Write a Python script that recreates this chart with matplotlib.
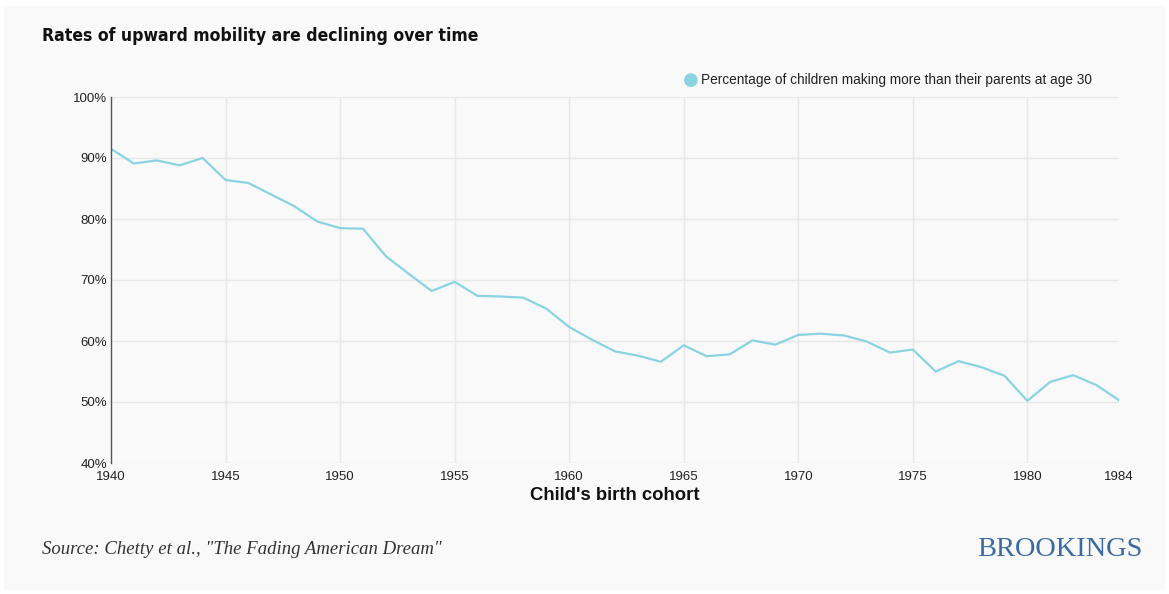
import matplotlib.pyplot as plt
from matplotlib.patches import Rectangle
from matplotlib.ticker import FuncFormatter

# Share of children earning more than their parents at age 30, by birth year
years = list(range(1940, 1985))
pct_higher = [
    91.5, 89.1, 89.6, 88.8, 90.0, 86.4, 85.9, 84.0, 82.1, 79.6,
    78.5, 78.4, 73.9, 71.0, 68.2, 69.7, 67.4, 67.3, 67.1, 65.3,
    62.3, 60.2, 58.3, 57.6, 56.6, 59.3, 57.5, 57.8, 60.1, 59.4,
    61.0, 61.2, 60.9, 59.9, 58.1, 58.6, 55.0, 56.7, 55.7, 54.3,
    50.2, 53.3, 54.4, 52.8, 50.3,
]
x_ticks = [1940, 1945, 1950, 1955, 1960, 1965, 1970, 1975, 1980, 1984]
y_ticks = [40, 50, 60, 70, 80, 90, 100]

line_color = '#8ad3e3'
grid_color = '#e8e8e8'
bg = '#f9f9f9'

fig = plt.figure(figsize=(11.69, 5.94), dpi=100)
fig.patch.set_facecolor('white')
fig.patches.append(Rectangle((4 / 1169, 4 / 594), 1161 / 1169, 584 / 594,
                             transform=fig.transFigure, facecolor=bg,
                             edgecolor='none', zorder=-10))

ax = fig.add_axes([111 / 1169, 1 - 463 / 594, 1008 / 1169, 366 / 594])
ax.set_facecolor(bg)
ax.patch.set_alpha(0)

ax.plot(years, pct_higher, color=line_color, lw=1.6, zorder=3)

ax.set_xlim(1940, 1984)
ax.set_ylim(40, 100)
ax.set_xticks(x_ticks)
ax.set_yticks(y_ticks)
ax.yaxis.set_major_formatter(FuncFormatter(lambda v, p: f'{v:.0f}%'))

# grid: horizontal lines at every tick, vertical only every 5 years
for y in y_ticks:
    ax.axhline(y, color=grid_color, lw=1, zorder=1)
for x in x_ticks[1:-1]:
    ax.axvline(x, color=grid_color, lw=1, zorder=1)

for side in ['top', 'right', 'bottom']:
    ax.spines[side].set_visible(False)
ax.spines['left'].set_color('#555555')
ax.spines['left'].set_linewidth(1)
ax.spines['left'].set_zorder(4)
ax.tick_params(axis='both', length=0, labelsize=9.5, colors='#222222',
               labelfontfamily='Liberation Sans')
ax.tick_params(axis='x', pad=6)
ax.tick_params(axis='y', pad=3)

ax.set_xlabel("Child's birth cohort", fontsize=13.3, fontweight='bold',
              family='Liberation Sans', color='#111111', labelpad=3)

# legend entry above the plot
fig.text(691 / 1169, 1 - 80 / 594, '\u25CF', color=line_color, fontsize=13,
         ha='center', va='center', family='DejaVu Sans')
fig.text(701 / 1169, 1 - 80 / 594,
         'Percentage of children making more than their parents at age 30',
         fontsize=9.85, family='Liberation Sans', color='#222222',
         ha='left', va='center')

fig.text(42 / 1169, 1 - 36 / 594, 'Rates of upward mobility are declining over time',
         fontsize=12.6, fontweight='bold', fontstretch='condensed',
         family='DejaVu Sans', color='#111111', ha='left', va='center')

fig.text(42 / 1169, 1 - 550 / 594,
         'Source: Chetty et al., "The Fading American Dream"',
         fontsize=13.5, style='italic', family='Liberation Serif', color='#333333',
         ha='left', va='center')
fig.text(1142 / 1169, 1 - 550 / 594, 'BROOKINGS', fontsize=20.4,
         family='Liberation Serif', color='#3a6ca3', ha='right', va='center')

fig.savefig('out.png', dpi=100, facecolor=fig.get_facecolor())
